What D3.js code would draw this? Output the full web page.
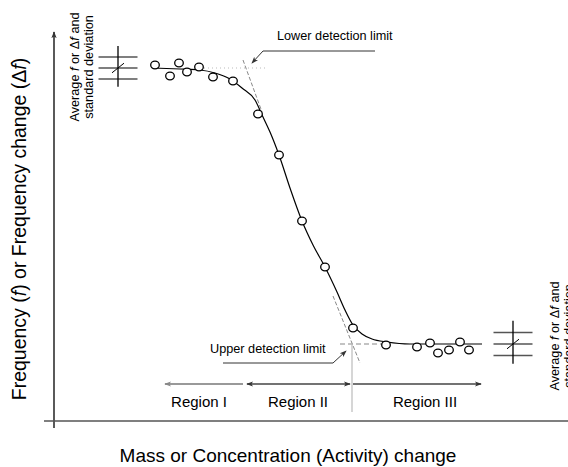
<!DOCTYPE html>
<html>
<head>
<meta charset="utf-8">
<script src="https://cdn.jsdelivr.net/npm/d3@7"></script>
<style>
  body { margin: 0; background: #fff; }
  svg { font-family: "Liberation Sans", Arial, sans-serif; }
</style>
</head>
<body>
<div id="chart"></div>
<script>
// measured points (x = mass/concentration, y = frequency), arbitrary units 0-100
var pointX = [20.2, 23.2, 25, 26.6, 29, 31.8, 35.8, 40.8, 45, 49.6, 54.2, 59.8, 66.4, 72.6, 75.2, 76.8, 79, 81.2, 83];
var pointY = [89, 86.25, 89.5, 87.25, 88.5, 86, 85, 76.75, 66.5, 50, 38.5, 23.25, 19, 18.5, 19.5, 17, 17.75, 19.75, 17.75];

// fitted curve
var curveX = [19.8, 25.2, 29.2, 32.2, 35.2, 37.6, 40.2, 41.8, 43.2, 45, 47.2, 49.6, 51.8, 54.2, 56.6, 58.2, 59.8, 61.6, 63.6, 66.6, 71.2, 77.2, 85.6];
var curveY = [88.25, 88, 87.75, 87, 85.5, 83.25, 80.25, 76, 72.25, 66.5, 58.25, 50, 44, 38.5, 32.25, 27.75, 24, 21.75, 20.5, 19.75, 19.25, 19.25, 19.25];

// plateau averages and standard deviation
var avgLow = {x: 12.8, mean: 88.25, sd: 2.75};
var avgHigh = {x: 91.8, mean: 19.25, sd: 2.9};

// region limits along x
var regionNames = ["Region I", "Region II", "Region III"];
var regionFrom = [37.8, 38.6, 59.8];
var regionTo = [22.2, 59.2, 85.4];
var regionMid = [29, 48.8, 74.2];

var width = 568, height = 467;
var x = d3.scaleLinear().domain([0, 100]).range([54, 554]);
var y = d3.scaleLinear().domain([0, 100]).range([421, 21]);

var svg = d3.select("#chart").append("svg")
  .attr("width", width)
  .attr("height", height);

var defs = svg.append("defs");
function marker(id, col) {
  defs.append("marker")
    .attr("id", id)
    .attr("viewBox", "0 -4 8 8")
    .attr("refX", 7).attr("refY", 0)
    .attr("markerWidth", 7).attr("markerHeight", 7)
    .attr("markerUnits", "userSpaceOnUse")
    .attr("orient", "auto-start-reverse")
    .append("path")
    .attr("d", "M0,-3L8,0L0,3L2,0Z")
    .attr("fill", col);
}
marker("arrDark", "#333");
marker("arrGrey", "#888");

// axes
svg.append("line")
  .attr("x1", x(0)).attr("x2", x(0))
  .attr("y1", y(-1.75)).attr("y2", y(97.25))
  .attr("stroke", "#000").attr("stroke-width", 1.3)
  .attr("marker-end", "url(#arrDark)");
svg.append("line")
  .attr("x1", x(-2)).attr("x2", x(103))
  .attr("y1", y(0)).attr("y2", y(0))
  .attr("stroke", "#555").attr("stroke-width", 1.5);

// axis titles
svg.append("text")
  .attr("x", 288).attr("y", 462)
  .attr("text-anchor", "middle")
  .style("font-size", "19px")
  .text("Mass or Concentration (Activity) change");

var yl = svg.append("text")
  .attr("transform", "translate(26,229) rotate(-90)")
  .attr("text-anchor", "middle")
  .style("font-size", "19.5px");
yl.append("tspan").text("Frequency (");
yl.append("tspan").style("font-style", "italic").text("f");
yl.append("tspan").text(") or Frequency change (\u0394");
yl.append("tspan").style("font-style", "italic").text("f");
yl.append("tspan").text(")");

// helper lines (tangents, plateau levels)
var grey = "#888";
svg.append("line")
  .attr("x1", x(29.2)).attr("x2", x(42.8))
  .attr("y1", y(avgLow.mean)).attr("y2", y(avgLow.mean))
  .attr("stroke", "#bbb").attr("stroke-width", 1).attr("stroke-dasharray", "1,3");
svg.append("line")
  .attr("x1", x(37.8)).attr("x2", x(41.6))
  .attr("y1", y(90.25)).attr("y2", y(77.25))
  .attr("stroke", grey).attr("stroke-width", 1).attr("stroke-dasharray", "4,2");
svg.append("line")
  .attr("x1", x(55.8)).attr("x2", x(61.2))
  .attr("y1", y(31.25)).attr("y2", y(14.5))
  .attr("stroke", grey).attr("stroke-width", 1).attr("stroke-dasharray", "4,2");
svg.append("line")
  .attr("x1", x(57.2)).attr("x2", x(66.2))
  .attr("y1", y(avgHigh.mean)).attr("y2", y(avgHigh.mean))
  .attr("stroke", grey).attr("stroke-width", 1.2).attr("stroke-dasharray", "5,3");
svg.append("line")
  .attr("x1", x(59.6)).attr("x2", x(59.6))
  .attr("y1", y(19.5)).attr("y2", y(2.25))
  .attr("stroke", "#bbb").attr("stroke-width", 1.2);

// fitted curve
var curveData = curveX.map(function(d, i) { return [d, curveY[i]]; });
var line = d3.line()
  .x(function(d) { return x(d[0]); })
  .y(function(d) { return y(d[1]); })
  .curve(d3.curveMonotoneX);
svg.append("path")
  .datum(curveData)
  .attr("fill", "none")
  .attr("stroke", "#000")
  .attr("stroke-width", 1.2)
  .attr("d", line);

// data points
svg.selectAll(".pt")
  .data(pointX)
  .enter()
  .append("ellipse")
  .attr("class", "pt")
  .attr("cx", function(d) { return x(d); })
  .attr("cy", function(d, i) { return y(pointY[i]); })
  .attr("rx", 4.3).attr("ry", 3.8)
  .attr("fill", "#fff")
  .attr("stroke", "#000")
  .attr("stroke-width", 1.3);

// average +/- sd symbols
function avgSymbol(a) {
  var g = svg.append("g");
  [a.mean - a.sd, a.mean, a.mean + a.sd].forEach(function(v) {
    g.append("line")
      .attr("x1", x(a.x - 3.9)).attr("x2", x(a.x + 3.9))
      .attr("y1", y(v)).attr("y2", y(v))
      .attr("stroke", "#555").attr("stroke-width", 1.5);
  });
  g.append("line")
    .attr("x1", x(a.x)).attr("x2", x(a.x))
    .attr("y1", y(a.mean - a.sd * 1.7)).attr("y2", y(a.mean + a.sd * 2))
    .attr("stroke", "#000").attr("stroke-width", 1.3);
  g.append("line")
    .attr("x1", x(a.x - 1.2)).attr("x2", x(a.x + 1.2))
    .attr("y1", y(a.mean - 1.2)).attr("y2", y(a.mean + 1.2))
    .attr("stroke", "#000").attr("stroke-width", 1);
}
avgSymbol(avgLow);
avgSymbol(avgHigh);

// rotated labels beside the symbols (the right one runs off the edge, as in the original)
function avgLabel(cx, cy) {
  var t = svg.append("text")
    .attr("transform", "translate(" + cx + "," + cy + ") rotate(-90)")
    .attr("text-anchor", "middle")
    .style("font-size", "12.7px");
  var t1 = t.append("tspan").attr("x", 0).attr("y", 0);
  t1.append("tspan").text("Average ");
  t1.append("tspan").style("font-style", "italic").text("f");
  t1.append("tspan").text(" or \u0394");
  t1.append("tspan").style("font-style", "italic").text("f");
  t1.append("tspan").text(" and");
  t.append("tspan").attr("x", 0).attr("y", 14).text("standard deviation");
}
avgLabel(79, 67);
avgLabel(559, 336);

// detection limit annotations
svg.append("text")
  .attr("x", x(44.6)).attr("y", y(95.25))
  .style("font-size", "12.7px")
  .text("Lower detection limit");
svg.append("polyline")
  .attr("points", [[x(64.2), y(92.5)], [x(41.8), y(92.5)], [x(39.6), y(89.5)]].join(" "))
  .attr("fill", "none").attr("stroke", "#333").attr("stroke-width", 1)
  .attr("marker-end", "url(#arrDark)");

svg.append("text")
  .attr("x", x(31.2)).attr("y", y(17))
  .style("font-size", "12.7px")
  .text("Upper detection limit");
svg.append("polyline")
  .attr("points", [[x(33.8), y(14.5)], [x(55.8), y(14.5)], [x(58.4), y(17.5)]].join(" "))
  .attr("fill", "none").attr("stroke", "#333").attr("stroke-width", 1)
  .attr("marker-end", "url(#arrDark)");

// regions
regionNames.forEach(function(name, i) {
  var col = i == 0 ? "#999" : "#444";
  var l = svg.append("line")
    .attr("x1", x(regionFrom[i])).attr("x2", x(regionTo[i]))
    .attr("y1", y(9.25)).attr("y2", y(9.25))
    .attr("stroke", col).attr("stroke-width", i == 0 ? 2 : 1.4)
    .attr("marker-end", i == 0 ? "url(#arrGrey)" : "url(#arrDark)");
  if (i == 1) l.attr("marker-start", "url(#arrDark)");
  svg.append("text")
    .attr("x", x(regionMid[i])).attr("y", y(3.5))
    .attr("text-anchor", "middle")
    .style("font-size", "15px")
    .text(name);
});
</script>
</body>
</html>
